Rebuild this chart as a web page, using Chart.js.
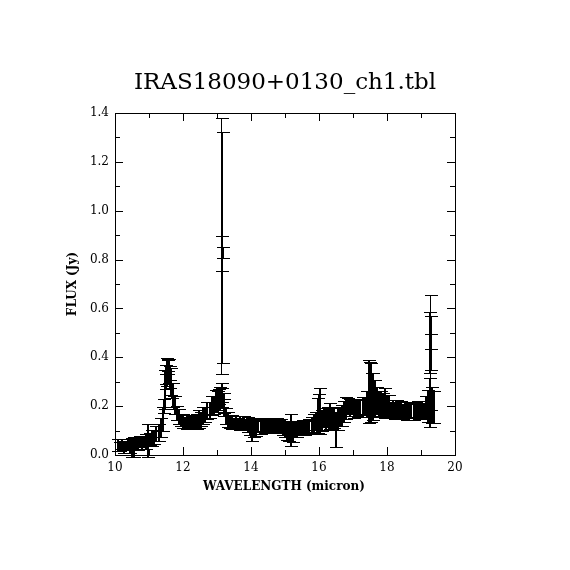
<!DOCTYPE html>
<html>
<head>
<meta charset="utf-8">
<script src="https://cdn.jsdelivr.net/npm/chart.js@4"></script>
<style>
  body { margin: 0; background: #fff; }
  #plot { display: block; }
</style>
</head>
<body>
<canvas id="plot" width="570" height="570"></canvas>
<script>
// wavelength (micron), flux (Jy) and 1-sigma error
const wavelength = [
  10.08, 10.14, 10.20, 10.26, 10.32, 10.38, 10.44, 10.50, 10.56, 10.62,
  10.68, 10.74, 10.80, 10.86, 10.92, 10.98, 11.04, 11.10, 11.16, 11.22,
  11.28, 11.34, 11.40, 11.46, 11.52, 11.58, 11.64, 11.70, 11.76, 11.82,
  11.88, 11.94, 12.00, 12.06, 12.12, 12.18, 12.24, 12.30, 12.36, 12.42,
  12.48, 12.54, 12.60, 12.66, 12.72, 12.78, 12.84, 12.90, 12.96, 13.02,
  13.08, 13.14, 13.20, 13.26, 13.32, 13.38, 13.44, 13.50, 13.56, 13.62,
  13.68, 13.74, 13.80, 13.86, 13.92, 13.98, 14.04, 14.10, 14.16, 14.22,
  14.28, 14.34, 14.40, 14.46, 14.52, 14.58, 14.64, 14.70, 14.76, 14.82,
  14.88, 14.94, 15.00, 15.06, 15.12, 15.18, 15.24, 15.30, 15.36, 15.42,
  15.48, 15.54, 15.60, 15.66, 15.72, 15.78, 15.84, 15.90, 15.96, 16.02,
  16.08, 16.14, 16.20, 16.26, 16.32, 16.38, 16.44, 16.50, 16.56, 16.62,
  16.68, 16.74, 16.80, 16.86, 16.92, 16.98, 17.04, 17.10, 17.16, 17.22,
  17.28, 17.34, 17.40, 17.46, 17.52, 17.58, 17.64, 17.70, 17.76, 17.82,
  17.88, 17.94, 18.00, 18.06, 18.12, 18.18, 18.24, 18.30, 18.36, 18.42,
  18.48, 18.54, 18.60, 18.66, 18.72, 18.78, 18.84, 18.90, 18.96, 19.02,
  19.08, 19.14, 19.20, 19.26, 19.32, 19.38,
  13.16, 13.17, 13.16, 13.17, 13.15,
  19.28, 19.27, 19.29, 19.28,
  11.50, 11.56, 11.62, 13.05, 13.22, 17.50, 17.56, 16.00,
  11.43, 11.49, 11.55, 11.61, 11.67, 11.73
];
const flux = [
  0.042, 0.036, 0.044, 0.033, 0.040, 0.046, 0.036, 0.030, 0.032, 0.045,
  0.046, 0.054, 0.052, 0.058, 0.056, 0.060, 0.066, 0.070, 0.073, 0.088,
  0.092, 0.112, 0.148, 0.270, 0.340, 0.345, 0.300, 0.245, 0.205, 0.172,
  0.158, 0.142, 0.140, 0.131, 0.134, 0.133, 0.139, 0.132, 0.140, 0.137,
  0.147, 0.148, 0.162, 0.165, 0.182, 0.185, 0.202, 0.205, 0.222, 0.220,
  0.232, 0.236, 0.205, 0.160, 0.145, 0.136, 0.135, 0.128, 0.133, 0.128,
  0.132, 0.126, 0.131, 0.125, 0.124, 0.113, 0.105, 0.112, 0.110, 0.117,
  0.116, 0.122, 0.119, 0.124, 0.121, 0.118, 0.120, 0.117, 0.124, 0.117,
  0.120, 0.110, 0.107, 0.096, 0.097, 0.102, 0.090, 0.102, 0.106, 0.114,
  0.110, 0.117, 0.111, 0.118, 0.116, 0.124, 0.128, 0.140, 0.162, 0.180,
  0.142, 0.153, 0.146, 0.158, 0.160, 0.155, 0.154, 0.105, 0.148, 0.157,
  0.163, 0.178, 0.193, 0.202, 0.196, 0.197, 0.190, 0.192, 0.191, 0.197,
  0.196, 0.202, 0.208, 0.260, 0.255, 0.240, 0.230, 0.222, 0.212, 0.208,
  0.207, 0.212, 0.198, 0.197, 0.183, 0.192, 0.181, 0.190, 0.184, 0.184,
  0.178, 0.186, 0.176, 0.184, 0.183, 0.182, 0.181, 0.188, 0.179, 0.186,
  0.183, 0.194, 0.200, 0.215, 0.205, 0.195,
  0.855, 0.850, 0.825, 0.828, 0.255,
  0.420, 0.460, 0.465, 0.460,
  0.330, 0.360, 0.320, 0.240, 0.200, 0.320, 0.280, 0.200,
  0.200, 0.300, 0.370, 0.335, 0.265, 0.215
];
const fluxErr = [
  0.024, 0.018, 0.020, 0.026, 0.018, 0.021, 0.028, 0.038, 0.040, 0.022,
  0.024, 0.022, 0.026, 0.021, 0.030, 0.067, 0.025, 0.034, 0.028, 0.031,
  0.034, 0.040, 0.048, 0.080, 0.058, 0.050, 0.055, 0.050, 0.038, 0.028,
  0.030, 0.024, 0.028, 0.022, 0.029, 0.023, 0.026, 0.027, 0.024, 0.030,
  0.037, 0.028, 0.034, 0.031, 0.036, 0.033, 0.040, 0.037, 0.045, 0.042,
  0.048, 0.038, 0.047, 0.033, 0.030, 0.024, 0.027, 0.023, 0.026, 0.022,
  0.028, 0.022, 0.027, 0.024, 0.030, 0.033, 0.047, 0.038, 0.032, 0.024,
  0.030, 0.024, 0.029, 0.026, 0.028, 0.027, 0.029, 0.026, 0.028, 0.025,
  0.029, 0.028, 0.034, 0.033, 0.040, 0.066, 0.038, 0.030, 0.032, 0.026,
  0.030, 0.025, 0.030, 0.027, 0.032, 0.030, 0.040, 0.038, 0.072, 0.095,
  0.043, 0.040, 0.045, 0.038, 0.053, 0.040, 0.043, 0.072, 0.044, 0.038,
  0.043, 0.042, 0.044, 0.033, 0.035, 0.031, 0.038, 0.033, 0.037, 0.034,
  0.042, 0.036, 0.052, 0.130, 0.120, 0.095, 0.075, 0.055, 0.052, 0.053,
  0.047, 0.062, 0.048, 0.047, 0.033, 0.035, 0.033, 0.036, 0.034, 0.037,
  0.031, 0.033, 0.031, 0.034, 0.028, 0.037, 0.030, 0.033, 0.031, 0.034,
  0.028, 0.048, 0.065, 0.100, 0.075, 0.065,
  0.523, 0.472, 0.073, 0.023, 0.040,
  0.235, 0.125, 0.030, 0.110,
  0.040, 0.030, 0.045, 0.030, 0.030, 0.060, 0.055, 0.050,
  0.030, 0.030, 0.025, 0.030, 0.030, 0.025
];
const xTicks = [10, 12, 14, 16, 18, 20];
const yTicks = [0.0, 0.2, 0.4, 0.6, 0.8, 1.0, 1.2, 1.4];

const titleText = 'IRAS18090+0130_ch1.tbl';
const xTitle = 'WAVELENGTH (micron)';
const yTitle = 'FLUX (Jy)';

const points = wavelength.map((w, i) => ({ x: w, y: flux[i] }));

// error bars with caps, drawn through the chart scales
const errorBars = {
  id: 'errorBars',
  afterDatasetsDraw(chart) {
    const { ctx, scales: { x, y } } = chart;
    const cap = 6;
    ctx.save();
    ctx.fillStyle = '#000';
    wavelength.forEach((w, i) => {
      const px = Math.round(x.getPixelForValue(w));
      const top = Math.round(y.getPixelForValue(flux[i] + fluxErr[i]));
      const bot = Math.round(y.getPixelForValue(flux[i] - fluxErr[i]));
      // long isolated bars are thin, the dense band uses 2px stems
      const stem = fluxErr[i] > 0.2 ? 1 : 2;
      ctx.fillRect(px - 1, top, stem, bot - top + 1);
      ctx.fillRect(px - cap, top, cap * 2 + 1, 1);
      ctx.fillRect(px - cap, bot, cap * 2 + 1, 1);
    });
    ctx.restore();
  }
};

// box, inward ticks on all four sides, titles
const frame = {
  id: 'frame',
  afterDraw(chart) {
    const { ctx, chartArea: a, scales: { x, y } } = chart;
    ctx.save();
    ctx.strokeStyle = '#000';
    ctx.lineWidth = 1;
    ctx.strokeRect(a.left + 0.5, a.top + 0.5, a.right - a.left, a.bottom - a.top);
    ctx.beginPath();
    for (let v = x.min; v <= x.max + 1e-6; v += 1) {
      const px = Math.round(x.getPixelForValue(v)) + 0.5;
      const len = Math.round(v) % 2 === 0 ? 8 : 5;
      ctx.moveTo(px, a.bottom); ctx.lineTo(px, a.bottom - len);
      ctx.moveTo(px, a.top); ctx.lineTo(px, a.top + len);
    }
    for (let k = 0; k <= 14; k++) {
      const py = Math.round(y.getPixelForValue(k / 10)) + 0.5;
      const len = k % 2 === 0 ? 8 : 5;
      ctx.moveTo(a.left, py); ctx.lineTo(a.left + len, py);
      ctx.moveTo(a.right, py); ctx.lineTo(a.right - len, py);
    }
    ctx.stroke();

    ctx.fillStyle = '#000';
    ctx.textAlign = 'center';
    ctx.textBaseline = 'middle';
    ctx.font = '23px "DejaVu Serif"';
    ctx.fillText(titleText, (a.left + a.right) / 2, 83);
    ctx.font = 'bold 12px "DejaVu Serif"';
    ctx.fillText(xTitle, (a.left + a.right) / 2 - 1, 487);
    ctx.translate(73, (a.top + a.bottom) / 2);
    ctx.rotate(-Math.PI / 2);
    ctx.fillText(yTitle, 0, 0);
    ctx.restore();
  }
};

new Chart(document.getElementById('plot'), {
  type: 'scatter',
  data: {
    datasets: [{
      data: points,
      pointRadius: 0,
      showLine: false
    }]
  },
  options: {
    responsive: false,
    animation: false,
    devicePixelRatio: 1,
    layout: { padding: { left: 0, right: 115, top: 113, bottom: 0 } },
    plugins: { legend: { display: false }, tooltip: { enabled: false } },
    scales: {
      x: {
        type: 'linear',
        min: 10,
        max: 20,
        afterBuildTicks: s => { s.ticks = xTicks.map(v => ({ value: v })); },
        afterFit: s => { s.height = 115; },
        grid: { display: false, drawTicks: false },
        border: { display: false },
        ticks: {
          autoSkip: false,
          maxRotation: 0,
          padding: 6,
          color: '#000',
          font: { family: 'DejaVu Serif', size: 12 },
          callback: v => String(v)
        }
      },
      y: {
        min: 0,
        max: 1.4,
        afterBuildTicks: s => { s.ticks = yTicks.map(v => ({ value: v })); },
        afterFit: s => { s.width = 115; },
        grid: { display: false, drawTicks: false },
        border: { display: false },
        ticks: {
          autoSkip: false,
          padding: 6,
          color: '#000',
          font: { family: 'DejaVu Serif', size: 12 },
          callback: v => v.toFixed(1)
        }
      }
    }
  },
  plugins: [errorBars, frame]
});
</script>
</body>
</html>
